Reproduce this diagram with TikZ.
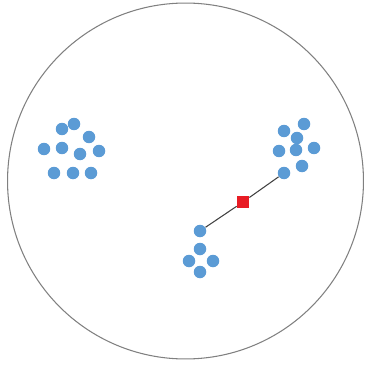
\documentclass[tikz,border=0pt]{standalone}
\usepackage{tikz}
\usetikzlibrary{positioning}

\definecolor{dotblue}{RGB}{91,155,213}
\definecolor{centred}{RGB}{232,28,36}

\begin{document}
\begin{tikzpicture}[
    x=0.02cm, y=-0.02cm,
    point/.style={circle, fill=dotblue, draw=none, minimum size=0.25cm, inner sep=0pt},
    centre/.style={rectangle, fill=centred, draw=none, minimum size=0.24cm, inner sep=0pt},
    link/.style={draw, black!75, line width=0.6pt}
  ]
    \useasboundingbox (0,0) rectangle (366,368);
    \node[draw, gray, line width=0.6pt, circle, minimum size=7.12cm, inner sep=0pt] (region) at (185.5,181) {};

    % left cluster
    \node[point] (a1) at (62,129) {};
    \node[point] (a2) at (74,124) {};
    \node[point] (a3) at (89,137) {};
    \node[point] (a4) at (44,149) {};
    \node[point] (a5) at (62,148) {};
    \node[point] (a6) at (80,154) {};
    \node[point] (a7) at (99,151) {};
    \node[point] (a8) at (54,173) {};
    \node[point] (a9) at (73,173) {};
    \node[point] (a10) at (91,173) {};

    % right cluster
    \node[point] (b1) at (304,124) {};
    \node[point] (b2) at (284,131) {};
    \node[point] (b3) at (297,138) {};
    \node[point] (b4) at (279,151) {};
    \node[point] (b5) at (296,150) {};
    \node[point] (b6) at (314,148) {};
    \node[point] (b7) at (302,166) {};
    \node[point] (b8) at (284,173) {};

    % bottom cluster
    \node[point] (c1) at (200,231) {};
    \node[point] (c2) at (200,249) {};
    \node[point] (c3) at (189,261) {};
    \node[point] (c4) at (213,261) {};
    \node[point] (c5) at (200,272) {};

    \node[centre] (mid) at (243,202) {};

    \draw[link] (c1) -- (mid);
    \draw[link] (mid) -- (b8);
  \end{tikzpicture}
\end{document}
